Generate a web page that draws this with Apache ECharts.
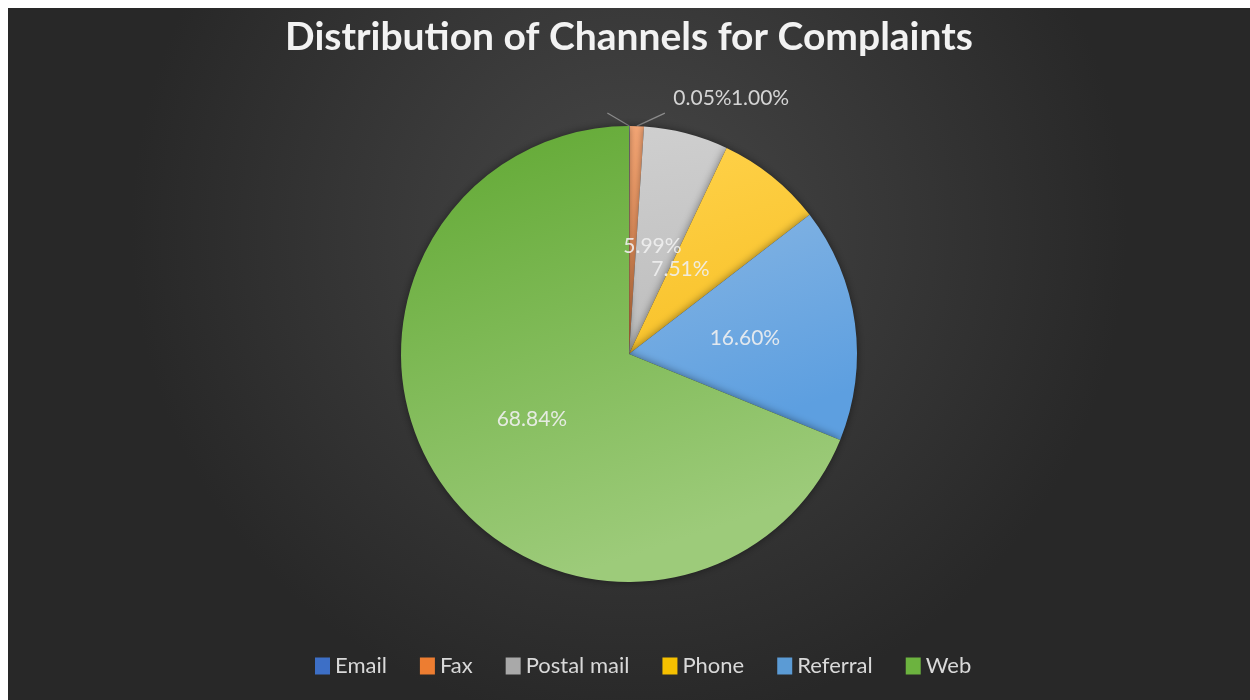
<!DOCTYPE html>
<html>
<head>
<meta charset="utf-8">
<script src="https://cdn.jsdelivr.net/npm/echarts@6/dist/echarts.min.js"></script>
<style>
  html, body { margin: 0; padding: 0; background: #ffffff; }
  #chart { position: absolute; left: 8px; top: 8px; width: 1242px; height: 692px; }
</style>
</head>
<body>
<div id="chart"></div>
<script>
// Complaint channels and their share of all complaints (%)
const channels = ['Email', 'Fax', 'Postal mail', 'Phone', 'Referral', 'Web'];
const shares = [0.05, 1.00, 5.99, 7.51, 16.60, 68.84];

// Slice fills: [top colour, bottom colour] of each gradient
const fills = [
  ['#5b8fd8', '#3f70c4'],
  ['#f7a877', '#ef8a4a'],
  ['#cfcfcf', '#bdbdbd'],
  ['#ffd24a', '#f8c22a'],
  ['#86b5e3', '#5d9fe0'],
  ['#60a832', '#9dcb7a']
];
const legendColors = ['#3d6fc6', '#ed7d31', '#a9a9a9', '#f5c000', '#5b9bd5', '#6cb33f'];

const grad = (c) => new echarts.graphic.LinearGradient(0, 0, 0.35, 1, [
  { offset: 0, color: c[0] }, { offset: 1, color: c[1] }
]);

const chart = echarts.init(document.getElementById('chart'));

const pieData = channels.map((name, i) => {
  const small = shares[i] < 2;
  return {
    name: name,
    value: shares[i],
    itemStyle: { color: grad(fills[i]) },
    label: small
      ? { position: 'outside', color: '#d4d4d4' }
      : { position: 'inside', color: 'rgba(240,240,240,0.9)' },
    labelLine: { show: small }
  };
});

// Nudges for the two narrow inside labels so they sit clear of each other
const insideNudge = { 2: [-6, 5], 3: [-22, 6] };

chart.setOption({
  backgroundColor: new echarts.graphic.RadialGradient(0.5, 0.32, 0.72, [
    { offset: 0, color: '#474747' },
    { offset: 1, color: '#282828' }
  ]),
  title: {
    text: 'Distribution of Channels for Complaints',
    left: 'center',
    top: 5,
    textStyle: { color: '#f2f2f2', fontFamily: 'Lato', fontWeight: 'bold', fontSize: 39 }
  },
  legend: {
    data: channels.map((n, i) => ({ name: n, itemStyle: { color: legendColors[i] } })),
    left: 302,
    top: 642,
    icon: 'rect',
    itemWidth: 15,
    itemHeight: 17,
    itemGap: 33,
    textStyle: { color: '#d9d9d9', fontFamily: 'Lato', fontSize: 22 }
  },
  series: [{
    type: 'pie',
    center: ['50%', '50%'],
    radius: 228,
    startAngle: 90,
    clockwise: true,
    avoidLabelOverlap: false,
    data: pieData,
    itemStyle: { shadowBlur: 8, shadowColor: 'rgba(0,0,0,0.45)' },
    label: {
      show: true,
      formatter: (p) => p.value.toFixed(2) + '%',
      fontFamily: 'Lato',
      fontSize: 21
    },
    labelLine: { length: 10, length2: 10, lineStyle: { color: '#8c8c8c', width: 1.2 } },
    labelLayout: function (p) {
      if (insideNudge[p.dataIndex]) {
        return { dx: insideNudge[p.dataIndex][0], dy: insideNudge[p.dataIndex][1] };
      }
      const pts = p.labelLinePoints;
      if (p.dataIndex > 1 || !pts) return {};
      const e = pts[0];
      if (p.dataIndex === 0) {
        return {
          x: e[0] + 44, y: e[1] - 28, align: 'left', verticalAlign: 'middle',
          labelLinePoints: [e, [e[0] - 22, e[1] - 13], [e[0] - 22, e[1] - 13]]
        };
      }
      return {
        x: e[0] + 94, y: e[1] - 28, align: 'left', verticalAlign: 'middle',
        labelLinePoints: [e, [e[0] + 28, e[1] - 13], [e[0] + 28, e[1] - 13]]
      };
    }
  }]
});
</script>
</body>
</html>
